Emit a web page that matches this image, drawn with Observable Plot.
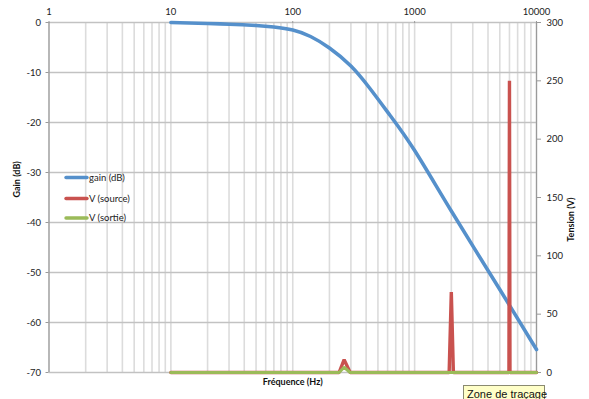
<!DOCTYPE html>
<html><head><meta charset="utf-8">
<script src="https://cdn.jsdelivr.net/npm/d3@7"></script>
<script src="https://cdn.jsdelivr.net/npm/@observablehq/plot@0.6"></script>
<style>
body{margin:0;background:#fff}
#chart{position:relative;width:589px;height:399px;overflow:hidden}
#tip{position:absolute;left:463px;top:385px;width:82px;height:18px;background:#ffffc8;border:1px solid #8a8a70;font:11px "Liberation Sans",sans-serif;color:#111;padding:2px 0 0 3px;box-sizing:border-box;white-space:nowrap}
</style>
</head><body><div id="chart"></div>
<script>
// Gain (dB) vs frequency (Hz)
const freqGain = [10, 20, 30, 50, 70, 100, 140, 200, 300, 430, 630, 1000, 2000, 5000, 10000];
const gainDb   = [0, -0.2, -0.35, -0.6, -0.9, -1.5, -2.8, -5.1, -8.7, -13.2, -18.6, -25.6, -37.7, -53.4, -65.4];
// V (source) in volts
const freqSource = [10, 240, 264, 296, 1920, 2000, 2080, 5940, 6000, 6060, 10000];
const vSource    = [0, 0, 11, 0, 0, 69, 0, 0, 250, 0, 0];
// V (sortie) in volts
const freqSortie = [10, 240, 264, 296, 10000];
const vSortie    = [0, 0, 4.5, 0, 0];
// ticks
const xTicks = [1, 10, 100, 1000, 10000];
const gainTicks = [0, -10, -20, -30, -40, -50, -60, -70];
const voltTicks = [0, 50, 100, 150, 200, 250, 300];
const seriesNames = ["gain (dB)", "V (source)", "V (sortie)"];
const colors = ["#5590cb", "#c9524f", "#9bbb59"];

const toDb = v => v * 70 / 300 - 70;
const minorTicks = [];
for (const d of [1, 10, 100, 1000]) for (let k = 1; k <= 9; k++) minorTicks.push(k * d);
minorTicks.push(10000);

const gainData = freqGain.map((f, i) => ({f, y: gainDb[i]}));
const srcData = freqSource.map((f, i) => ({f, y: toDb(vSource[i])}));
const sorData = freqSortie.map((f, i) => ({f, y: toDb(vSortie[i])}));

const plot = Plot.plot({
  width: 589, height: 399,
  marginLeft: 48.5, marginRight: 53, marginTop: 22, marginBottom: 27,
  style: {fontFamily: "Lato, sans-serif", fontSize: "9.5px", color: "#222", background: "#fff", overflow: "visible"},
  x: {type: "log", domain: [1, 10000]},
  y: {domain: [-70, 0]},
  marks: [
    Plot.ruleX(minorTicks, {stroke: "#dcdcdc", strokeWidth: 1.6}),
    Plot.ruleY(gainTicks, {stroke: "#c2c2c2", strokeWidth: 1.6}),
    Plot.ruleX([1, 10000], {stroke: "#9a9a9a", strokeWidth: 1.2}),
    Plot.axisX({anchor: "top", ticks: xTicks, tickFormat: d => String(d), tickSize: 2, tickPadding: 6, label: null, stroke: "#9a9a9a"}),
    Plot.axisY({anchor: "left", ticks: gainTicks, tickFormat: d => String(d), tickSize: 3, tickPadding: 5, label: null, stroke: "#9a9a9a"}),
    Plot.axisY({anchor: "right", ticks: voltTicks.map(toDb), tickFormat: (d, i) => String(voltTicks[i]), tickSize: 4, tickPadding: 6, label: null, stroke: "#9a9a9a"}),
    Plot.line(gainData, {x: "f", y: "y", stroke: colors[0], strokeWidth: 3.6, curve: "natural"}),
    Plot.line(srcData, {x: "f", y: "y", stroke: colors[1], strokeWidth: 3.4, strokeLinejoin: "miter"}),
    Plot.line(sorData, {x: "f", y: "y", stroke: colors[2], strokeWidth: 3, strokeLinejoin: "miter"}),
    Plot.text(["Gain (dB)"], {frameAnchor: "left", dx: -31.5, rotate: -90, fontWeight: "bold", fontSize: 9, fill: "#111"}),
    Plot.text(["Tension (V)"], {frameAnchor: "right", dx: 35, rotate: -90, fontWeight: "bold", fontSize: 9, fill: "#111"}),
    Plot.text(["Fréquence (Hz)"], {frameAnchor: "bottom", dy: 10, lineAnchor: "middle", fontWeight: "bold", fontSize: 9, fill: "#111"})
  ]
});

const svg = d3.select(plot);
const legY = [177.5, 198.5, 218];
seriesNames.forEach((name, i) => {
  svg.append("line").attr("x1", 66).attr("x2", 87).attr("y1", legY[i]).attr("y2", legY[i])
    .attr("stroke", colors[i]).attr("stroke-width", 3.4).attr("stroke-linecap", "round");
  svg.append("text").attr("x", 89).attr("y", legY[i]).attr("dy", "0.35em")
    .attr("text-anchor", "start").attr("font-size", 9.5).attr("fill", "#222").text(name);
});

const chart = document.getElementById("chart");
chart.appendChild(plot);
const tip = document.createElement("div");
tip.id = "tip";
tip.textContent = "Zone de traçage";
chart.appendChild(tip);
</script>
</body></html>
